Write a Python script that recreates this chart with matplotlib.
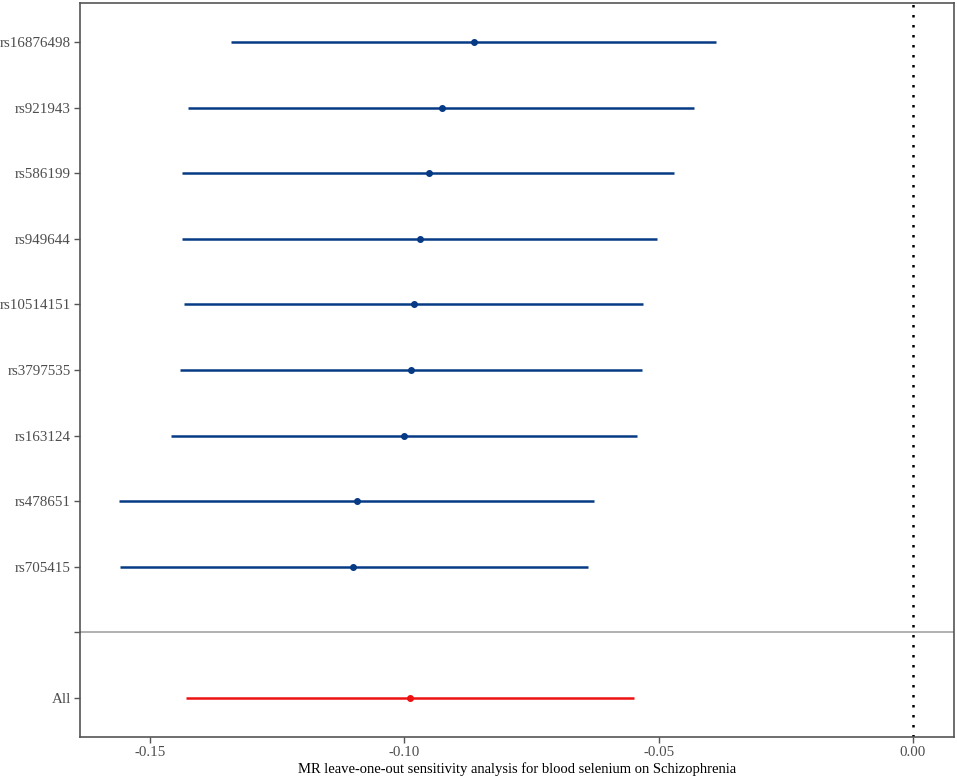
import matplotlib
matplotlib.use('Agg')
from matplotlib import pyplot as plt

plt.rcParams['font.family'] = ['Liberation Serif', 'DejaVu Serif']

# leave-one-out estimates (top to bottom), then the combined "All" estimate
snps = ['rs16876498', 'rs921943', 'rs586199', 'rs949644', 'rs10514151',
        'rs3797535', 'rs163124', 'rs478651', 'rs705415']
b = [-0.0863, -0.0926, -0.0952, -0.0969, -0.0981, -0.0987, -0.1001, -0.1093, -0.1101]
lo = [-0.1341, -0.1425, -0.1437, -0.1437, -0.1433, -0.1441, -0.1459, -0.1561, -0.1559]
hi = [-0.0387, -0.0431, -0.0470, -0.0503, -0.0531, -0.0533, -0.0543, -0.0627, -0.0639]
all_b, all_lo, all_hi = -0.0989, -0.1429, -0.0549

xticks = [-0.15, -0.10, -0.05, 0.00]
xticklabels = ['-0.15', '-0.10', '-0.05', '0.00']

fig = plt.figure(figsize=(9.57, 7.8), dpi=100)
ax = fig.add_axes([80 / 957, 43 / 780, 874 / 957, 734 / 780])

n = len(snps)
ypos = [n + 2 - i for i in range(n)]   # 11 .. 3, slot 2 is the separator, 1 is All
navy = '#063a84'
ax.hlines(ypos, lo, hi, color=navy, lw=1.8, zorder=3)
ax.plot(b, ypos, 'o', color=navy, ms=4, zorder=4)
ax.hlines(1, all_lo, all_hi, color='#ee1111', lw=1.8, zorder=3)
ax.plot(all_b, 1, 'o', color='#ee1111', ms=4, zorder=4)

ax.axhline(2, color='#aaaaaa', lw=1.3, zorder=1)
ax.axvline(0, color='black', lw=1.8, ls=(0, (1, 3)), zorder=1)

ax.set_xlim(-0.1638, 0.0081)
ax.set_ylim(0.4, 11.6)
ax.set_yticks([1, 2] + ypos)
ax.set_yticklabels(['All', ''] + snps)
ax.set_xticks(xticks)
ax.set_xticklabels(xticklabels)
ax.tick_params(labelsize=10.8, colors='#555555', labelcolor='#4d4d4d', length=4, width=1)
ax.tick_params(axis='y', pad=2.5)
ax.tick_params(axis='x', pad=2.5)
for s in ax.spines.values():
    s.set_color('#555555')
    s.set_linewidth(1.2)
ax.set_xlabel('MR leave-one-out sensitivity analysis for blood selenium on Schizophrenia',
              fontsize=10.5, labelpad=2)

fig.savefig('out.png', dpi=100)
